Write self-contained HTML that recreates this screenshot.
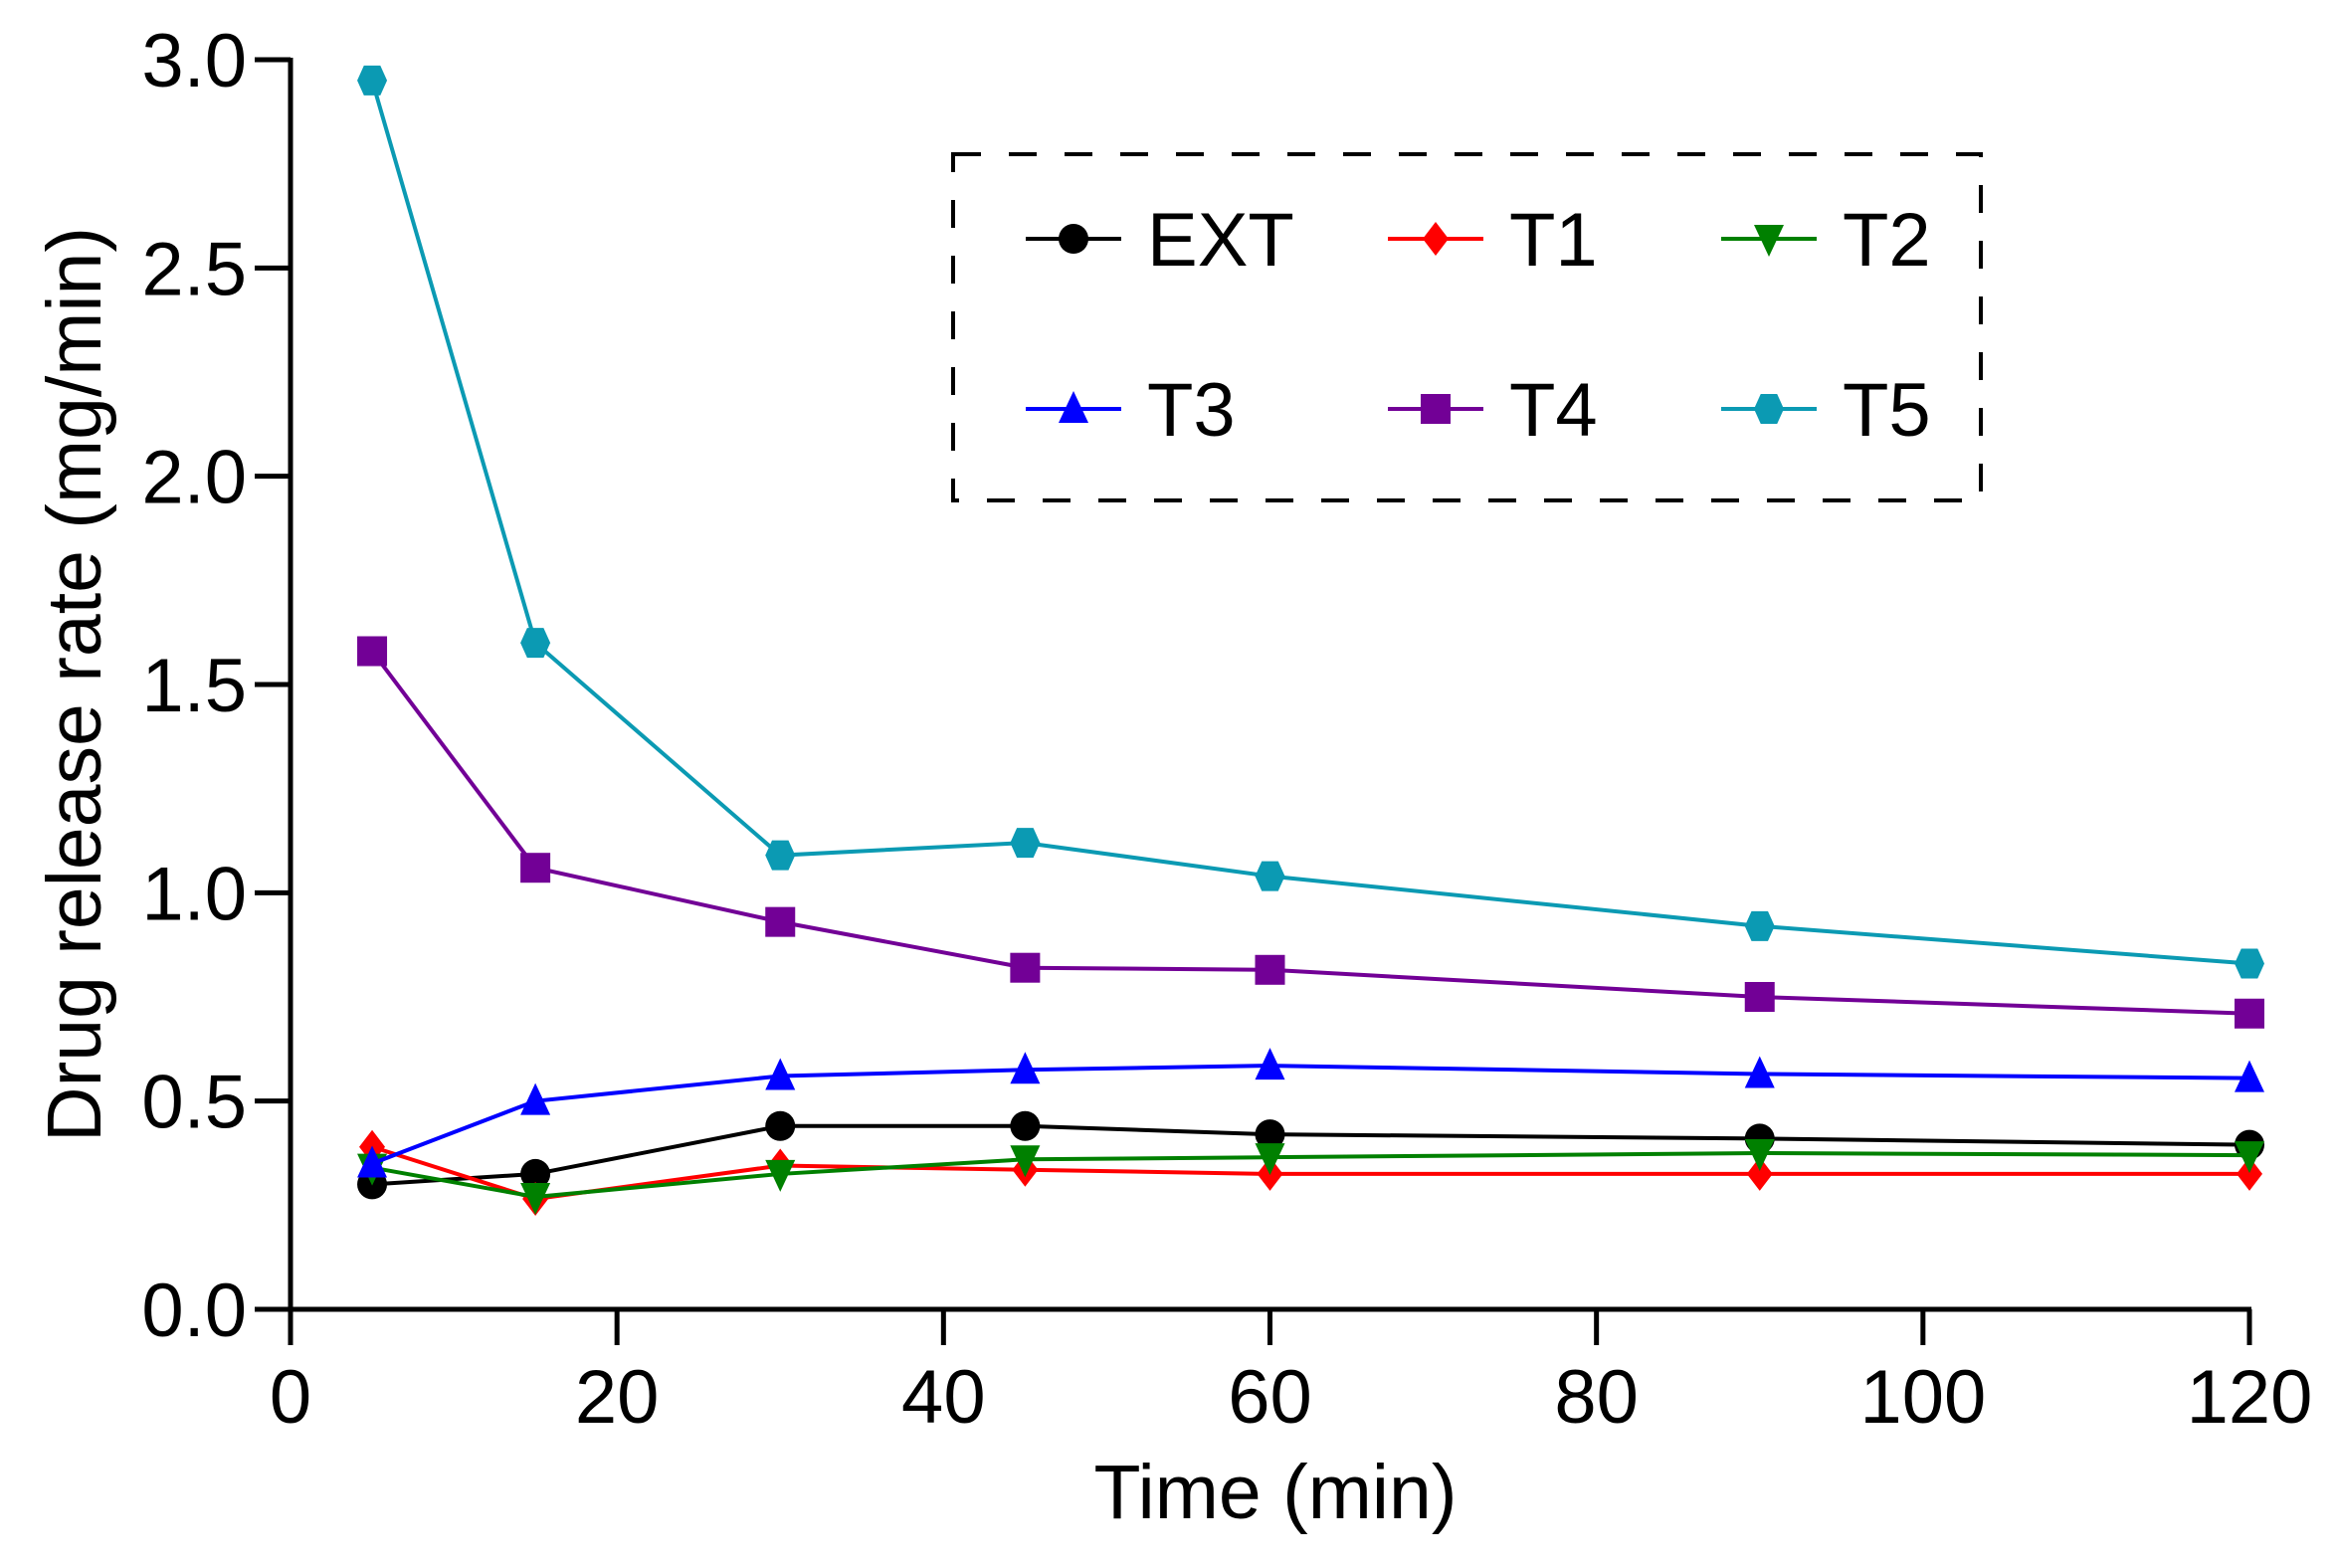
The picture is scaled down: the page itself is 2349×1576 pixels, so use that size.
<!DOCTYPE html>
<html><head><meta charset="utf-8"><style>
html,body{margin:0;padding:0;background:#fff}
svg{display:block}
text{font-family:"Liberation Sans",Arial,sans-serif;fill:#000}
</style></head><body>
<svg id="chart" width="2349" height="1576" viewBox="0 0 2349 1576" xmlns="http://www.w3.org/2000/svg">
<g id="axes"></g>
<g id="series"></g>
<g id="legend"></g>
<text x="0" y="0" font-size="77" text-anchor="middle" transform="translate(101,688) rotate(-90)">Drug release rate (mg/min)</text>
<text x="1282" y="1526" font-size="77" text-anchor="middle">Time (min)</text>
</svg>
<script>
const times = [5, 15, 30, 45, 60, 90, 120];
const seriesNames = ["EXT", "T1", "T2", "T3", "T4", "T5"];
const extValues = [0.30, 0.325, 0.44, 0.44, 0.42, 0.41, 0.395];
const t1Values = [0.39, 0.265, 0.345, 0.335, 0.325, 0.325, 0.325];
const t2Values = [0.34, 0.27, 0.325, 0.36, 0.365, 0.375, 0.37];
const t3Values = [0.35, 0.50, 0.56, 0.575, 0.585, 0.565, 0.555];
const t4Values = [1.58, 1.06, 0.93, 0.82, 0.815, 0.75, 0.71];
const t5Values = [2.95, 1.60, 1.09, 1.12, 1.04, 0.92, 0.83];
const xTicks = [0, 20, 40, 60, 80, 100, 120];
const yTicks = [0, 0.5, 1.0, 1.5, 2.0, 2.5, 3.0];
const yTickLabels = ["0.0", "0.5", "1.0", "1.5", "2.0", "2.5", "3.0"];

const NS = "http://www.w3.org/2000/svg";
const X0 = 292, X1 = 2261, Y0 = 1316, Y1 = 60;
function xs(v){ return X0 + (v - 0) / 120 * (X1 - X0); }
function ys(v){ return Y0 - (v - 0) / 3 * (Y0 - Y1); }
function mk(tag, attrs, parent){
  const e = document.createElementNS(NS, tag);
  for (const k in attrs) e.setAttribute(k, attrs[k]);
  parent.appendChild(e); return e;
}
const axes = document.getElementById('axes');
let el;
el = mk('line', {x1:X0, y1:Y1-2, x2:X0, y2:Y0+2, stroke:'#000','stroke-width':5}, axes);


el = mk('line', {x1:X0-36, y1:Y0, x2:X1+2, y2:Y0, stroke:'#000','stroke-width':5}, axes);


yTicks.forEach((t,i)=>{
  const y = ys(t);
  const l = mk('line', {x1:X0-36, y1:y, x2:X0, y2:y, stroke:'#000','stroke-width':5}, axes);
  
  
  const tx = mk('text', {x:X0-44, y:y+27, 'font-size':76, 'text-anchor':'end'}, axes);
  tx.textContent = yTickLabels[i];
  
  
});
xTicks.forEach(t=>{
  const x = xs(t);
  const l = mk('line', {x1:x, y1:Y0, x2:x, y2:Y0+36, stroke:'#000','stroke-width':5}, axes);
  
  
  const tx = mk('text', {x:x, y:Y0+114, 'font-size':76, 'text-anchor':'middle'}, axes);
  tx.textContent = String(t);
  
  
});

const colors = ["#000000", "#ff0000", "#008000", "#0000ff", "#720096", "#0b9ab3"];
const shapes = ["circle", "diamond", "tridown", "triup", "square", "hex"];
const allValues = [extValues, t1Values, t2Values, t3Values, t4Values, t5Values];

function marker(shape, x, y, c, parent){
  const r = 15;
  let e;
  if (shape === 'circle') e = mk('ellipse', {cx:x, cy:y, rx:r, ry:r, fill:c}, parent);
  else if (shape === 'square') e = mk('rect', {x:x-r, y:y-r, width:2*r, height:2*r, fill:c}, parent);
  else if (shape === 'diamond') e = mk('polygon', {points:`${x},${y-r-2} ${x+r-2},${y} ${x},${y+r+2} ${x-r+2},${y}`, fill:c}, parent);
  else if (shape === 'triup') e = mk('polygon', {points:`${x},${y-r-3} ${x+r},${y+r-1} ${x-r},${y+r-1}`, fill:c}, parent);
  else if (shape === 'tridown') e = mk('polygon', {points:`${x},${y+r+3} ${x+r},${y-r+1} ${x-r},${y-r+1}`, fill:c}, parent);
  else { const a=r, b=r*0.55;
    e = mk('polygon', {points:`${x-a},${y} ${x-b},${y-a} ${x+b},${y-a} ${x+a},${y} ${x+b},${y+a} ${x-b},${y+a}`, fill:c}, parent); }
  return e;
}

const sg = document.getElementById('series');
allValues.forEach((vals, si)=>{
  const g = mk('g', {}, sg);
  
  
  const pts = vals.map((v,i)=> xs(times[i]) + ',' + ys(v)).join(' ');
  const pl = mk('polyline', {points:pts, fill:'none', stroke:colors[si], 'stroke-width':4}, g);
  
  
  vals.forEach((v,i)=>{
    const m = marker(shapes[si], xs(times[i]), ys(v), colors[si], g);
    
    
  });
});

const lg = document.getElementById('legend');
const box = mk('rect', {x:958, y:155, width:1033, height:348, fill:'none', stroke:'#000', 'stroke-width':4, 'stroke-dasharray':'28 28'}, lg);


const colX = [1031, 1395, 1730];
const rowY = [240, 411];
seriesNames.forEach((n, si)=>{
  const x = colX[si % 3], y = rowY[Math.floor(si / 3)];
  const g = mk('g', {}, lg);
  
  
  mk('line', {x1:x, y1:y, x2:x+96, y2:y, stroke:colors[si], 'stroke-width':4}, g);
  marker(shapes[si], x+48, y, colors[si], g);
  const t = mk('text', {x:x+122, y:y+27, 'font-size':76}, g);
  t.textContent = n;
});
</script>
</body></html>
